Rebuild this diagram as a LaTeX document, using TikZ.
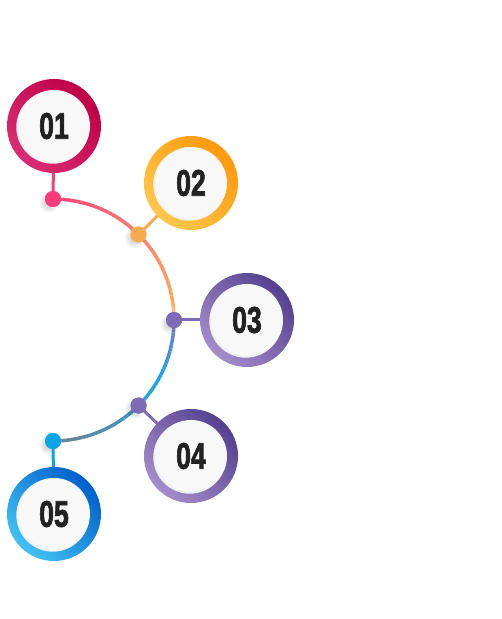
\documentclass[tikz,border=0pt]{standalone}
\usepackage{fontspec}
\usepackage{graphicx}
\newfontfamily\numfont{Liberation Sans}[BoldFont={* Bold}, BoldFeatures={FakeBold=2.2}]
\definecolor{s1}{HTML}{F83F7B}
\definecolor{s2}{HTML}{F97B70}
\definecolor{s3}{HTML}{FFA858}
\definecolor{s4}{HTML}{FFAA58}
\definecolor{s5}{HTML}{7C78C6}
\definecolor{s6}{HTML}{12A5E8}
\definecolor{s7}{HTML}{3A95C4}
\definecolor{s8}{HTML}{6E8088}
\definecolor{pinkA}{HTML}{BE0047}
\definecolor{pinkB}{HTML}{DB2C72}
\definecolor{oraA}{HTML}{FF990C}
\definecolor{oraB}{HTML}{FFC74A}
\definecolor{purA}{HTML}{54408F}
\definecolor{purB}{HTML}{A48DCB}
\definecolor{bluA}{HTML}{0060CC}
\definecolor{bluB}{HTML}{42C2F2}
\definecolor{dot1}{HTML}{FB3B7C}
\definecolor{dot2}{HTML}{F7AA4E}
\definecolor{dot3}{HTML}{7E6BB5}
\definecolor{dot5}{HTML}{0BA4E6}
\definecolor{numtext}{HTML}{222222}
\definecolor{innerwhite}{HTML}{F8F8F8}
\tikzset{
  arcline/.style={line width=3.5pt},
  linkline/.style={line width=3pt},
  numlabel/.style={font=\numfont\bfseries\fontsize{37}{40}\selectfont, text=numtext, inner sep=0pt},
  hub/.style={circle, minimum size=94pt, inner sep=0pt},
}
\newcommand{\ringit}[3]{%
  \shade[top color=#2, bottom color=#3, shading angle=-45] (#1.center) circle (47);
  \fill[black!6] ([shift={(-1.2,-1.2)}]#1.center) circle (36.5);
  \fill[innerwhite] (#1.center) circle (36);
}
\newcommand{\dotit}[2]{%
  \foreach \r in {10,9,...,4}{\fill[black, opacity=0.025] ([shift={(-4,-4)}]#1) circle (\r);}
  \fill[#2] (#1) circle (8);
}
\begin{document}
\begin{tikzpicture}[x=1pt,y=1pt]
\fill[white] (0,0) rectangle (502,619);
\useasboundingbox (0,0) rectangle (502,619);
\coordinate (ac) at (53,299);
\coordinate (d1) at ([shift={(90:121)}]ac);
\coordinate (d2) at ([shift={(45:121)}]ac);
\coordinate (d3) at ([shift={(0:121)}]ac);
\coordinate (d4) at ([shift={(-45:121)}]ac);
\coordinate (d5) at ([shift={(-90:121)}]ac);
\node[hub] (c1) at (54,493) {};
\node[hub] (c2) at (191,436) {};
\node[hub] (c3) at (247,299) {};
\node[hub] (c4) at (191,163) {};
\node[hub] (c5) at (54,105) {};
% arc with gradient
\foreach \aS/\aE/\cS/\cE in {90/45/s1/s2, 45/10/s2/s3, 10/0/s3/s4, 0/-30/s5/s6, -30/-50/s6/s7, -50/-90/s7/s8}{
  \foreach \i in {0,...,19}{
    \pgfmathsetmacro\ta{\aS+(\aE-\aS)*\i/20}
    \pgfmathsetmacro\tb{\aS+(\aE-\aS)*(\i+1)/20}
    \pgfmathtruncatemacro\p{100-100*(\i+0.5)/20}
    \draw[arcline, color=\cS!\p!\cE] ([shift={(\ta:121)}]ac) arc (\ta:\tb:121);
  }
}
% dot shadows
\dotit{d1}{dot1}
\dotit{d2}{dot2}
\dotit{d3}{dot3}
\dotit{d4}{dot3}
\dotit{d5}{dot5}
% connectors
\draw[linkline, dot1] (d1) -- (c1.center);
\draw[linkline, dot2] (d2) -- (c2.center);
\draw[linkline, dot3] (d3) -- (c3.center);
\draw[linkline, dot3] (d4) -- (c4.center);
\draw[linkline, dot5] (d5) -- (c5.center);
\fill[dot1] (d1) circle (8);
\fill[dot2] (d2) circle (8);
\fill[dot3] (d3) circle (8);
\fill[dot3] (d4) circle (8);
\fill[dot5] (d5) circle (8);
% rings
\ringit{c1}{pinkA}{pinkB}
\ringit{c2}{oraA}{oraB}
\ringit{c3}{purA}{purB}
\ringit{c4}{purA}{purB}
\ringit{c5}{bluA}{bluB}
% labels
\node[numlabel] (t1) at (c1) {\scalebox{0.72}[1]{01}};
\node[numlabel] (t2) at (c2) {\scalebox{0.72}[1]{02}};
\node[numlabel] (t3) at (c3) {\scalebox{0.72}[1]{03}};
\node[numlabel] (t4) at (c4) {\scalebox{0.72}[1]{04}};
\node[numlabel] (t5) at (c5) {\scalebox{0.72}[1]{05}};
\end{tikzpicture}
\end{document}
